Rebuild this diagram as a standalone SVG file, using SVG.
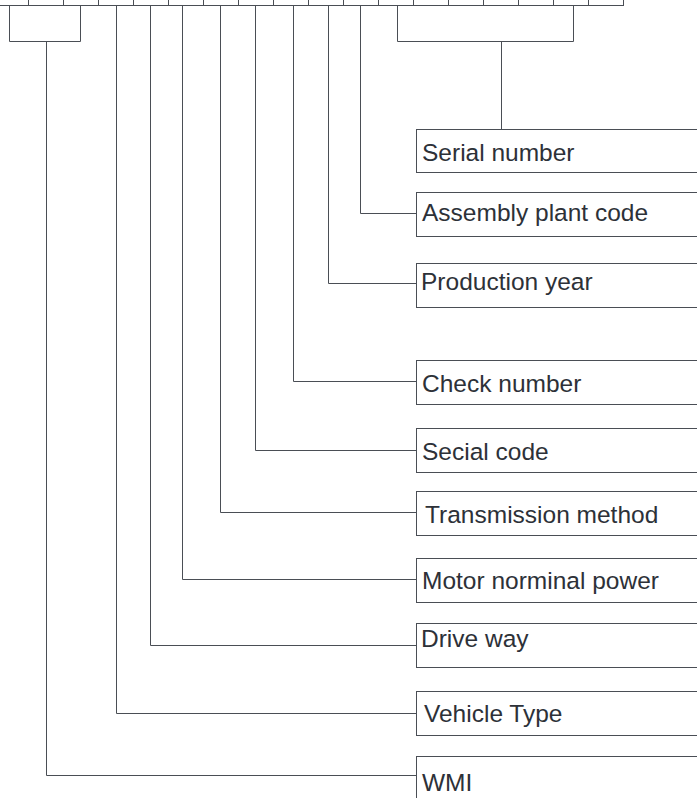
<svg xmlns="http://www.w3.org/2000/svg" width="697" height="798" viewBox="0 0 697 798">
<style>
.ln{fill:none;stroke:#4a4e55;stroke-width:1}
.bx{fill:#ffffff;stroke:#4a4e55;stroke-width:1}
.t{font-family:"Liberation Sans",Arial,sans-serif;font-size:24.5px;fill:#2d3138}
</style>
<rect width="697" height="798" fill="#ffffff"/>
<g id="vin-strip" class="ln">
<path d="M0,5.5 H624"/>
<path d="M28.5,0V5.5M63.5,0V5.5M98.5,0V5.5M133.5,0V5.5M168.5,0V5.5M203.5,0V5.5M238.5,0V5.5M273.5,0V5.5M308.5,0V5.5M343.5,0V5.5M378.5,0V5.5M413.5,0V5.5M448.5,0V5.5M483.5,0V5.5M518.5,0V5.5M553.5,0V5.5M588.5,0V5.5M623.5,0V5.5"/>
</g>
<g id="connectors" class="ln">
<path d="M9.5,5.5 V41.5 H80.5 V5.5"/>
<path d="M46.5,41.5 V775.5 H416.5"/>
<path d="M397.5,5.5 V41.5 H573.5 V5.5"/>
<path d="M501.5,41.5 V129.5"/>
<path d="M116.5,5.5 V713.5 H416.5"/>
<path d="M150.5,5.5 V645.5 H416.5"/>
<path d="M182.5,5.5 V579.5 H416.5"/>
<path d="M220.5,5.5 V512.5 H416.5"/>
<path d="M255.5,5.5 V450.5 H416.5"/>
<path d="M293.5,5.5 V381.5 H416.5"/>
<path d="M328.5,5.5 V283.5 H416.5"/>
<path d="M360.5,5.5 V213.5 H416.5"/>
</g>
<g id="serial-number"><rect class="bx" x="416.5" y="129.5" width="290" height="43"/><text class="t" x="422" y="161">Serial number</text></g>
<g id="assembly-plant-code"><rect class="bx" x="416.5" y="192.5" width="290" height="44"/><text class="t" x="422" y="221">Assembly plant code</text></g>
<g id="production-year"><rect class="bx" x="416.5" y="263.5" width="290" height="44"/><text class="t" x="421" y="290">Production year</text></g>
<g id="check-number"><rect class="bx" x="416.5" y="360.5" width="290" height="44"/><text class="t" x="422" y="392">Check number</text></g>
<g id="secial-code"><rect class="bx" x="416.5" y="428.5" width="290" height="44"/><text class="t" x="422" y="460">Secial code</text></g>
<g id="transmission-method"><rect class="bx" x="416.5" y="491.5" width="290" height="44"/><text class="t" x="425" y="523">Transmission method</text></g>
<g id="motor-norminal-power"><rect class="bx" x="416.5" y="558.5" width="290" height="44"/><text class="t" x="422" y="589">Motor norminal power</text></g>
<g id="drive-way"><rect class="bx" x="416.5" y="623.5" width="290" height="44"/><text class="t" x="421" y="647">Drive way</text></g>
<g id="vehicle-type"><rect class="bx" x="416.5" y="691.5" width="290" height="44"/><text class="t" x="424" y="722">Vehicle Type</text></g>
<g id="wmi"><rect class="bx" x="416.5" y="756.5" width="290" height="60"/><text class="t" x="422" y="791">WMI</text></g>
</svg>
